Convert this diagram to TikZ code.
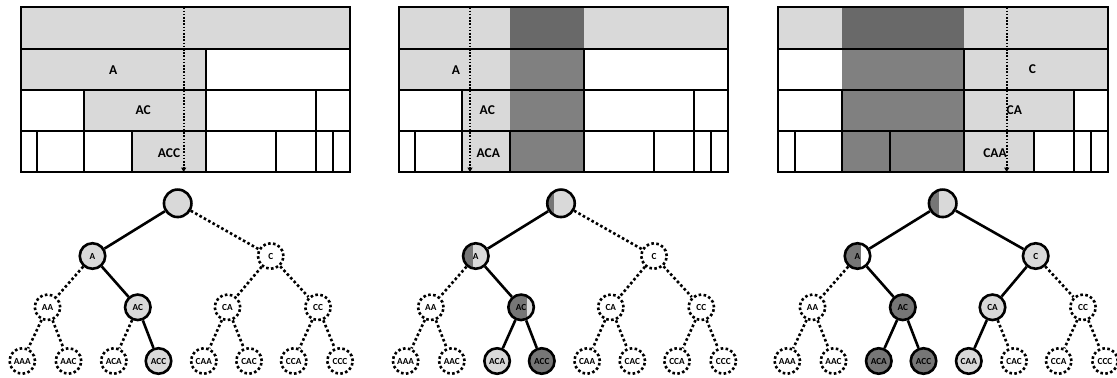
\documentclass[tikz,border=0pt]{standalone}
\usepackage{fontspec}
\setmainfont{Carlito}
\usetikzlibrary{arrows.meta,calc}
\definecolor{LT}{HTML}{D9D9D9}
\definecolor{MD}{HTML}{808080}
\definecolor{DK}{HTML}{696969}
\definecolor{CD}{HTML}{767676}
\tikzset{
  tbl/.style={line width=2bp},
  arr/.style={line width=1.6bp, dash pattern=on 1.6bp off 1.6bp, -{Triangle[length=4.5bp,width=5bp]}},
  tlabel/.style={font=\fontsize{13.5}{15}\selectfont\bfseries, inner sep=0pt},
  nd/.style={circle, minimum size=25.5bp, inner sep=0pt, line width=2.6bp, font=\fontsize{9.3}{10}\selectfont\bfseries},
  rootnd/.style={nd, minimum size=27.5bp},
  solidnd/.style={draw},
  dotnd/.style={draw, dash pattern=on 2.6bp off 2.4bp, fill=white},
  lt/.style={fill=LT},
  dkf/.style={fill=CD},
  part/.style 2 args={fill=#2, path picture={\fill[CD] (path picture bounding box.south west) rectangle ($(path picture bounding box.north west)!#1!(path picture bounding box.north east)$);}},
  eon/.style={line width=2.6bp},
  eoff/.style={line width=2.6bp, dash pattern=on 2.6bp off 2.4bp},
}
\newcommand\tablegrid{%
  \draw[tbl] (0,7.3) rectangle (329.3,172.3);
  \draw[tbl] (0,49)--(329.3,49) (0,90)--(329.3,90) (0,131)--(329.3,131);
  \draw[tbl] (185.3,49)--(185.3,90);
  \foreach \x in {63.3,185.3,295.3} \draw[tbl] (\x,90)--(\x,131);
  \foreach \x in {16.3,63.3,111.3,185.3,255.3,295.3,312.3} \draw[tbl] (\x,131)--(\x,172.3);
}
\newcommand\treecoords[2]{%
  \coordinate (#1r) at ({177.7+#2},203.3);
  \coordinate (#1a) at ({92.5+#2},256);
  \coordinate (#1c) at ({270.7+#2},256);
  \coordinate (#1aa) at ({47.5+#2},307.3);
  \coordinate (#1ac) at ({137.8+#2},307.3);
  \coordinate (#1ca) at ({227.5+#2},307.3);
  \coordinate (#1cc) at ({318+#2},307.3);
  \coordinate (#1aaa) at ({22.3+#2},361);
  \coordinate (#1aac) at ({68.5+#2},361);
  \coordinate (#1aca) at ({113.8+#2},361);
  \coordinate (#1acc) at ({158.5+#2},361);
  \coordinate (#1caa) at ({203.8+#2},361);
  \coordinate (#1cac) at ({249+#2},361);
  \coordinate (#1cca) at ({293.7+#2},361);
  \coordinate (#1ccc) at ({340+#2},361);
}
\begin{document}
\begin{tikzpicture}[x=1bp,y=-1bp]
\useasboundingbox (0,0) rectangle (1117,377);
% ---------- tables ----------
\begin{scope}[shift={(20.7,0)}]
  \fill[LT] (0,7.3) rectangle (329.3,49);
  \fill[LT] (0,49) rectangle (185.3,90);
  \fill[LT] (63.3,90) rectangle (185.3,131);
  \fill[LT] (111.3,131) rectangle (185.3,172.3);
  \tablegrid
\end{scope}
\begin{scope}[shift={(399,0)}]
  \fill[LT] (0,7.3) rectangle (329.3,49);
  \fill[DK] (111.3,7.3) rectangle (185.3,49);
  \fill[LT] (0,49) rectangle (111.3,90);
  \fill[LT] (63.3,90) rectangle (111.3,131);
  \fill[LT] (63.3,131) rectangle (111.3,172.3);
  \fill[MD] (111.3,49) rectangle (185.3,172.3);
  \tablegrid
\end{scope}
\begin{scope}[shift={(778.3,0)}]
  \fill[LT] (0,7.3) rectangle (329.3,49);
  \fill[DK] (63.3,7.3) rectangle (185.3,49);
  \fill[MD] (63.3,49) rectangle (185.3,172.3);
  \fill[LT] (185.3,49) rectangle (329.3,90);
  \fill[LT] (185.3,90) rectangle (295.3,131);
  \fill[LT] (185.3,131) rectangle (255.3,172.3);
  \tablegrid
\end{scope}
% table labels
\node[tlabel] (l1a) at (113.3,70) {A};
\node[tlabel] (l1ac) at (143.3,110) {AC};
\node[tlabel] (l1acc) at (169,153) {ACC};
\node[tlabel] (l2a) at (456,70) {A};
\node[tlabel] (l2ac) at (487.3,110) {AC};
\node[tlabel] (l2aca) at (488.3,153) {ACA};
\node[tlabel] (l3c) at (1032.3,69) {C};
\node[tlabel] (l3ca) at (1014.3,110) {CA};
\node[tlabel] (l3caa) at (995,153) {CAA};
% scan arrows
\coordinate (s1) at (183.7,7.3); \coordinate (e1) at (183.7,172);
\coordinate (s2) at (470,7.3); \coordinate (e2) at (470,172);
\coordinate (s3) at (1006.7,7.3); \coordinate (e3) at (1006.7,172);
\draw[arr] (s1) -- (e1);
\draw[arr] (s2) -- (e2);
\draw[arr] (s3) -- (e3);
% ---------- trees ----------
\treecoords{c1}{0}
\treecoords{c2}{383.3}
\treecoords{c3}{765}
% panel 1
\node[rootnd,solidnd,lt] (t1r) at (c1r) {};
\node[nd,solidnd,lt] (t1a) at (c1a) {A};
\node[nd,dotnd] (t1c) at (c1c) {C};
\node[nd,dotnd] (t1aa) at (c1aa) {AA};
\node[nd,solidnd,lt] (t1ac) at (c1ac) {AC};
\node[nd,dotnd] (t1ca) at (c1ca) {CA};
\node[nd,dotnd] (t1cc) at (c1cc) {CC};
\node[nd,dotnd] (t1aaa) at (c1aaa) {AAA};
\node[nd,dotnd] (t1aac) at (c1aac) {AAC};
\node[nd,dotnd] (t1aca) at (c1aca) {ACA};
\node[nd,solidnd,lt] (t1acc) at (c1acc) {ACC};
\node[nd,dotnd] (t1caa) at (c1caa) {CAA};
\node[nd,dotnd] (t1cac) at (c1cac) {CAC};
\node[nd,dotnd] (t1cca) at (c1cca) {CCA};
\node[nd,dotnd] (t1ccc) at (c1ccc) {CCC};
\foreach \u/\v in {r/a,a/ac,ac/acc} \draw[eon] (t1\u) -- (t1\v);
\foreach \u/\v in {r/c,a/aa,aa/aaa,aa/aac,ac/aca,c/ca,c/cc,ca/caa,ca/cac,cc/cca,cc/ccc} \draw[eoff] (t1\u) -- (t1\v);
% panel 2
\node[rootnd,solidnd,part={0.25}{LT}] (t2r) at (c2r) {};
\node[nd,solidnd,part={0.4}{LT}] (t2a) at (c2a) {A};
\node[nd,dotnd] (t2c) at (c2c) {C};
\node[nd,dotnd] (t2aa) at (c2aa) {AA};
\node[nd,solidnd,part={0.72}{LT}] (t2ac) at (c2ac) {AC};
\node[nd,dotnd] (t2ca) at (c2ca) {CA};
\node[nd,dotnd] (t2cc) at (c2cc) {CC};
\node[nd,dotnd] (t2aaa) at (c2aaa) {AAA};
\node[nd,dotnd] (t2aac) at (c2aac) {AAC};
\node[nd,solidnd,lt] (t2aca) at (c2aca) {ACA};
\node[nd,solidnd,dkf] (t2acc) at (c2acc) {ACC};
\node[nd,dotnd] (t2caa) at (c2caa) {CAA};
\node[nd,dotnd] (t2cac) at (c2cac) {CAC};
\node[nd,dotnd] (t2cca) at (c2cca) {CCA};
\node[nd,dotnd] (t2ccc) at (c2ccc) {CCC};
\foreach \u/\v in {r/a,a/ac,ac/aca,ac/acc} \draw[eon] (t2\u) -- (t2\v);
\foreach \u/\v in {r/c,a/aa,aa/aaa,aa/aac,c/ca,c/cc,ca/caa,ca/cac,cc/cca,cc/ccc} \draw[eoff] (t2\u) -- (t2\v);
% panel 3
\node[rootnd,solidnd,part={0.37}{LT}] (t3r) at (c3r) {};
\node[nd,solidnd,part={0.65}{white}] (t3a) at (c3a) {A};
\node[nd,solidnd,lt] (t3c) at (c3c) {C};
\node[nd,dotnd] (t3aa) at (c3aa) {AA};
\node[nd,solidnd,dkf] (t3ac) at (c3ac) {AC};
\node[nd,solidnd,lt] (t3ca) at (c3ca) {CA};
\node[nd,dotnd] (t3cc) at (c3cc) {CC};
\node[nd,dotnd] (t3aaa) at (c3aaa) {AAA};
\node[nd,dotnd] (t3aac) at (c3aac) {AAC};
\node[nd,solidnd,dkf] (t3aca) at (c3aca) {ACA};
\node[nd,solidnd,dkf] (t3acc) at (c3acc) {ACC};
\node[nd,solidnd,lt] (t3caa) at (c3caa) {CAA};
\node[nd,dotnd] (t3cac) at (c3cac) {CAC};
\node[nd,dotnd] (t3cca) at (c3cca) {CCA};
\node[nd,dotnd] (t3ccc) at (c3ccc) {CCC};
\foreach \u/\v in {r/a,r/c,a/ac,ac/aca,ac/acc,c/ca,ca/caa} \draw[eon] (t3\u) -- (t3\v);
\foreach \u/\v in {a/aa,aa/aaa,aa/aac,c/cc,cc/cca,cc/ccc,ca/cac} \draw[eoff] (t3\u) -- (t3\v);
\end{tikzpicture}
\end{document}
